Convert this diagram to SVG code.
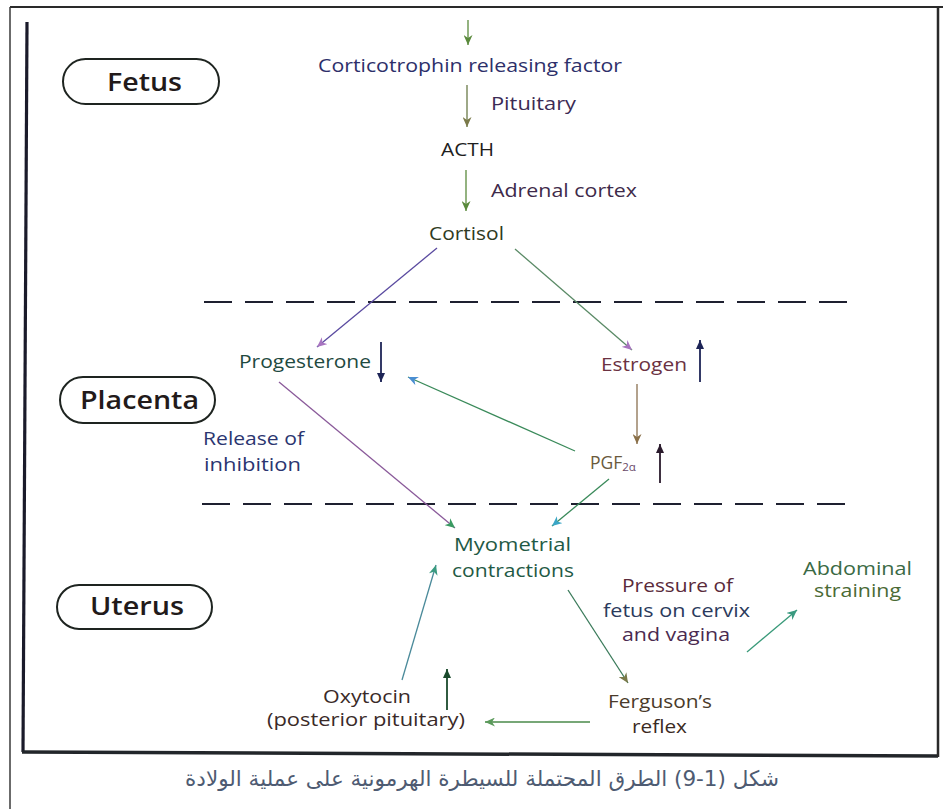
<svg xmlns="http://www.w3.org/2000/svg" width="943" height="809" viewBox="0 0 943 809">
<style>
  .t { font-family: "Open Sans", "Liberation Sans", sans-serif; font-size: 17.5px; }
  .r { font-family: "Open Sans", "Liberation Sans", sans-serif; font-size: 26px; font-weight: 600; fill: #221a1a; }
  .box { fill: none; stroke: #1e2420; stroke-width: 2; }
  .c { fill: none; stroke-width: 1.3; }
  .ind { fill: none; stroke-width: 1.8; }
  .ar { font-family: "DejaVu Sans", "Noto Sans", sans-serif; font-size: 21.5px; fill: #4e5b72; }
</style>
<defs>
  <marker id="mGreen" markerUnits="userSpaceOnUse" markerWidth="11" markerHeight="9" refX="10" refY="4.5" orient="auto"><path d="M0,0 L10,4.5 L0,9 L3,4.5 z" fill="#5a8a3c"/></marker>
  <marker id="mOlive" markerUnits="userSpaceOnUse" markerWidth="11" markerHeight="9" refX="10" refY="4.5" orient="auto"><path d="M0,0 L10,4.5 L0,9 L3,4.5 z" fill="#7a7a4a"/></marker>
  <marker id="mPurple" markerUnits="userSpaceOnUse" markerWidth="11" markerHeight="9" refX="10" refY="4.5" orient="auto"><path d="M0,0 L10,4.5 L0,9 L3,4.5 z" fill="#a874c0"/></marker>
  <marker id="mBlue" markerUnits="userSpaceOnUse" markerWidth="11" markerHeight="9" refX="10" refY="4.5" orient="auto"><path d="M0,0 L10,4.5 L0,9 L3,4.5 z" fill="#4a8ed2"/></marker>
  <marker id="mCyan" markerUnits="userSpaceOnUse" markerWidth="11" markerHeight="9" refX="10" refY="4.5" orient="auto"><path d="M0,0 L10,4.5 L0,9 L3,4.5 z" fill="#3aa6c6"/></marker>
  <marker id="mTeal" markerUnits="userSpaceOnUse" markerWidth="11" markerHeight="9" refX="10" refY="4.5" orient="auto"><path d="M0,0 L10,4.5 L0,9 L3,4.5 z" fill="#3a9a80"/></marker>
  <marker id="mSea" markerUnits="userSpaceOnUse" markerWidth="11" markerHeight="9" refX="10" refY="4.5" orient="auto"><path d="M0,0 L10,4.5 L0,9 L3,4.5 z" fill="#3a9a62"/></marker>
  <marker id="mBrown" markerUnits="userSpaceOnUse" markerWidth="11" markerHeight="9" refX="10" refY="4.5" orient="auto"><path d="M0,0 L10,4.5 L0,9 L3,4.5 z" fill="#8a7048"/></marker>
  <marker id="mLGreen" markerUnits="userSpaceOnUse" markerWidth="11" markerHeight="9" refX="10" refY="4.5" orient="auto"><path d="M0,0 L10,4.5 L0,9 L3,4.5 z" fill="#5a9a5a"/></marker>
  <marker id="mNavy" markerUnits="userSpaceOnUse" markerWidth="10" markerHeight="8" refX="9" refY="4" orient="auto"><path d="M0,0 L9,4 L0,8 z" fill="#1d2456"/></marker>
  <marker id="mDark" markerUnits="userSpaceOnUse" markerWidth="10" markerHeight="8" refX="9" refY="4" orient="auto"><path d="M0,0 L9,4 L0,8 z" fill="#2a1a2c"/></marker>
  <marker id="mDGreen" markerUnits="userSpaceOnUse" markerWidth="10" markerHeight="8" refX="9" refY="4" orient="auto"><path d="M0,0 L9,4 L0,8 z" fill="#1a4a2c"/></marker>
</defs>
<rect width="943" height="809" fill="#ffffff"/>

<g id="frame" fill="none">
  <path d="M10,7 H943" stroke="#2a2a2a" stroke-width="2"/>
  <path d="M10,7 V809" stroke="#3a3a3a" stroke-width="1.5"/>
  <path d="M27,22 L23,752" stroke="#1a1a2a" stroke-width="3.2"/>
  <path d="M22,752 L938,756" stroke="#22262a" stroke-width="3.5"/>
  <path d="M938,7 V757" stroke="#2a2a2a" stroke-width="2.5"/>
  <path d="M204,302 H850" stroke="#1e2030" stroke-width="2.2" stroke-dasharray="28 13"/>
  <path d="M202,504 H848" stroke="#1e2030" stroke-width="2.2" stroke-dasharray="28 13"/>
</g>

<g id="region-fetus">
  <rect class="box" x="63" y="59" width="156" height="45" rx="22.5"/>
  <text class="r" x="107" y="91" textLength="75" lengthAdjust="spacingAndGlyphs">Fetus</text>
</g>
<g id="region-placenta">
  <rect class="box" x="60" y="377" width="155" height="46" rx="23"/>
  <text class="r" x="80" y="409" textLength="119" lengthAdjust="spacingAndGlyphs" fill="#142424">Placenta</text>
</g>
<g id="region-uterus">
  <rect class="box" x="57" y="585" width="155" height="44" rx="22"/>
  <text class="r" x="90" y="615" textLength="94" lengthAdjust="spacingAndGlyphs" fill="#1a1a1a">Uterus</text>
</g>

<g id="node-crf"><text class="t" x="318" y="72" textLength="304" lengthAdjust="spacingAndGlyphs" fill="#2d2f6a">Corticotrophin releasing factor</text></g>
<g id="label-pituitary"><text class="t" x="491" y="110" textLength="85" lengthAdjust="spacingAndGlyphs" fill="#3b2b55">Pituitary</text></g>
<g id="node-acth"><text class="t" x="441" y="156" textLength="53" lengthAdjust="spacingAndGlyphs" fill="#1e1e1e">ACTH</text></g>
<g id="label-adrenal"><text class="t" x="491" y="197" textLength="146" lengthAdjust="spacingAndGlyphs" fill="#3e2a4a">Adrenal cortex</text></g>
<g id="node-cortisol"><text class="t" x="429" y="240" textLength="75" lengthAdjust="spacingAndGlyphs" fill="#2f3a22">Cortisol</text></g>
<g id="node-progesterone"><text class="t" x="239" y="368" textLength="132" lengthAdjust="spacingAndGlyphs" fill="#1f4a3f">Progesterone</text></g>
<g id="node-estrogen"><text class="t" x="601" y="371" textLength="86" lengthAdjust="spacingAndGlyphs" fill="#6b3242">Estrogen</text></g>
<g id="node-pgf"><text class="t" x="590" y="469" fill="#6a5a3c">PGF<tspan font-size="11.5" dy="2" fill="#6a4a6a">2α</tspan></text></g>
<g id="label-release">
  <text class="t" x="203" y="445" textLength="101" lengthAdjust="spacingAndGlyphs" fill="#2b3570">Release of</text>
  <text class="t" x="204" y="471" textLength="97" lengthAdjust="spacingAndGlyphs" fill="#2b3570">inhibition</text>
</g>
<g id="node-myometrial">
  <text class="t" x="454" y="551" textLength="117" lengthAdjust="spacingAndGlyphs" fill="#1f5a45">Myometrial</text>
  <text class="t" x="452" y="577" textLength="122" lengthAdjust="spacingAndGlyphs" fill="#1f5a45">contractions</text>
</g>
<g id="label-pressure">
  <text class="t" x="622" y="592" textLength="111" lengthAdjust="spacingAndGlyphs" fill="#5a2a3a">Pressure of</text>
  <text class="t" x="603" y="617" textLength="147" lengthAdjust="spacingAndGlyphs" fill="#2b3a5c">fetus on cervix</text>
  <text class="t" x="622" y="641" textLength="108" lengthAdjust="spacingAndGlyphs" fill="#4a2a50">and vagina</text>
</g>
<g id="node-abdominal">
  <text class="t" x="803" y="575" textLength="109" lengthAdjust="spacingAndGlyphs" fill="#3a6a45">Abdominal</text>
  <text class="t" x="814" y="597" textLength="87" lengthAdjust="spacingAndGlyphs" fill="#4a6a35">straining</text>
</g>
<g id="node-oxytocin">
  <text class="t" x="323" y="703" textLength="88" lengthAdjust="spacingAndGlyphs" fill="#3a2a28">Oxytocin</text>
  <text class="t" x="267" y="726" textLength="198" lengthAdjust="spacingAndGlyphs" fill="#3a2a28">(posterior pituitary)</text>
</g>
<g id="node-ferguson">
  <text class="t" x="608" y="708" textLength="104" lengthAdjust="spacingAndGlyphs" fill="#4a3a2a">Ferguson’s</text>
  <text class="t" x="632" y="733" textLength="55" lengthAdjust="spacingAndGlyphs" fill="#3a2a22">reflex</text>
</g>

<g id="connectors">
  <path class="c" d="M468,20 L468,45" stroke="#5a8a3c" marker-end="url(#mGreen)"/>
  <path class="c" d="M467,85 L467,127" stroke="#6a7a48" marker-end="url(#mOlive)"/>
  <path class="c" d="M466,170 L466,211" stroke="#5a8a3c" marker-end="url(#mGreen)"/>
  <path class="c" d="M437,248 L317,347" stroke="#5a4aa0" marker-end="url(#mPurple)"/>
  <path class="c" d="M515,249 L632,350" stroke="#5a8a66" marker-end="url(#mPurple)"/>
  <path class="c" d="M279,382 L455,528" stroke="#8a5a9a" marker-end="url(#mSea)"/>
  <path class="c" d="M575,451 L408,377" stroke="#3a8a5a" marker-end="url(#mBlue)"/>
  <path class="c" d="M609,479 L552,526" stroke="#3a8a5a" marker-end="url(#mCyan)"/>
  <path class="c" d="M637,384 L637,444" stroke="#8a7050" marker-end="url(#mBrown)"/>
  <path class="c" d="M568,590 L628,683" stroke="#3a7a5a" marker-end="url(#mOlive)"/>
  <path class="c" d="M590,722 L485,722" stroke="#4a8a4a" marker-end="url(#mLGreen)"/>
  <path class="c" d="M402,680 L436,565" stroke="#4a8a9a" marker-end="url(#mTeal)"/>
  <path class="c" d="M747,652 L797,610" stroke="#3a9a7a" marker-end="url(#mTeal)"/>
  <path class="ind" d="M381,342 L381,382" stroke="#1d2456" marker-end="url(#mNavy)"/>
  <path class="ind" d="M700,382 L700,340" stroke="#1d2456" marker-end="url(#mNavy)"/>
  <path class="ind" d="M660,483 L660,444" stroke="#2a1a2c" marker-end="url(#mDark)"/>
  <path class="ind" d="M447,710 L447,669" stroke="#1a4a2c" marker-end="url(#mDGreen)"/>
</g>

<g id="caption">
  <text class="ar" x="482" y="786" text-anchor="middle" direction="rtl">شكل (1-9) الطرق المحتملة للسيطرة الهرمونية على عملية الولادة</text>
</g>
</svg>
